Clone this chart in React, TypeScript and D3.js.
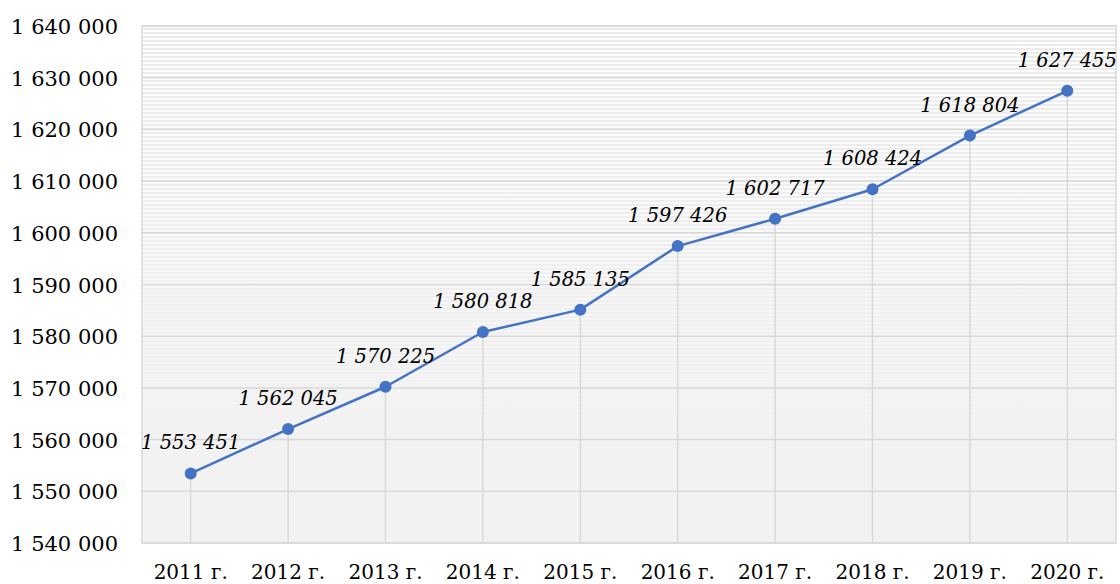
import React from "react";
import * as d3 from "d3";

const categories = ["2011 г.", "2012 г.", "2013 г.", "2014 г.", "2015 г.", "2016 г.", "2017 г.", "2018 г.", "2019 г.", "2020 г."];
const values = [1553451, 1562045, 1570225, 1580818, 1585135, 1597426, 1602717, 1608424, 1618804, 1627455];
const yTicks = [1540000, 1550000, 1560000, 1570000, 1580000, 1590000, 1600000, 1610000, 1620000, 1630000, 1640000];

const W = 1120, H = 584;
const left = 142, right = 1116, top = 26, bottom = 543;

const fmt = (v: number) => {
  const s = String(Math.round(v));
  return s.replace(/\B(?=(\d{3})+(?!\d))/g, " ");
};

export default function App() {
  const x = d3.scaleBand<string>().domain(categories).range([left, right]);
  const y = d3.scaleLinear().domain([1540000, 1640000]).range([bottom, top]);
  const cx = (c: string) => (x(c) as number) + x.bandwidth() / 2;
  const line = d3.line<number>().x((_, i) => cx(categories[i])).y((v) => y(v));
  const font = "'DejaVu Serif', 'Liberation Serif', serif";
  return (
    <svg width={W} height={H} style={{ position: "absolute", left: 0, top: 0 }}>
      <defs>
        <pattern id="stripes" width="8" height="4" patternUnits="userSpaceOnUse">
          <rect width="8" height="4" fill="#ffffff" />
          <rect width="8" height="2" fill="#ebebeb" />
        </pattern>
        <linearGradient id="fade" x1="0" y1="0" x2="0" y2="1">
          <stop offset="0" stopColor="#f2f2f2" stopOpacity="0" />
          <stop offset="0.55" stopColor="#f2f2f2" stopOpacity="0.7" />
          <stop offset="0.8" stopColor="#f2f2f2" stopOpacity="1" />
          <stop offset="1" stopColor="#f2f2f2" stopOpacity="1" />
        </linearGradient>
      </defs>
      <rect x={0} y={0} width={W} height={H} fill="#ffffff" />
      <rect x={left} y={top} width={right - left} height={bottom - top} fill="url(#stripes)" />
      <rect x={left} y={top} width={right - left} height={bottom - top} fill="url(#fade)" />
      {yTicks.map((t) => (
        <line key={t} x1={left} x2={right} y1={y(t)} y2={y(t)} stroke="#d9d9d9" strokeWidth={1.5} />
      ))}
      <rect x={left} y={top} width={right - left} height={bottom - top} fill="none" stroke="#d9d9d9" strokeWidth={1.5} />
      {values.map((v, i) => (
        <line key={i} x1={cx(categories[i])} x2={cx(categories[i])} y1={y(v)} y2={bottom} stroke="#d9d9d9" strokeWidth={1.5} />
      ))}
      <path d={line(values) || ""} fill="none" stroke="#4472c4" strokeWidth={2.5} strokeLinejoin="round" />
      {values.map((v, i) => (
        <circle key={i} cx={cx(categories[i])} cy={y(v)} r={6} fill="#4472c4" />
      ))}
      {values.map((v, i) => (
        <text key={i} x={cx(categories[i])} y={y(v) - 24} textAnchor="middle" fontFamily={font} fontStyle="italic" fontSize={19.5} fill="#000">
          {fmt(v)}
        </text>
      ))}
      {yTicks.map((t) => (
        <text key={t} x={118} y={y(t) + 8} textAnchor="end" fontFamily={font} fontSize={21} fill="#000">
          {fmt(t)}
        </text>
      ))}
      {categories.map((c) => (
        <text key={c} x={cx(c)} y={579} textAnchor="middle" fontFamily={font} fontSize={20} fill="#000">
          {c}
        </text>
      ))}
    </svg>
  );
}
